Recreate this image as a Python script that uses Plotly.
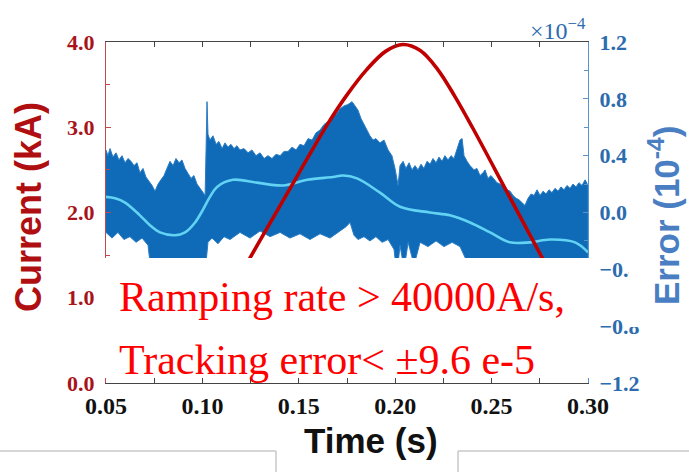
import plotly.graph_objects as go

# ---- current ramp (kA) ----
cur_t = [0.100, 0.125, 0.150, 0.165, 0.175, 0.185, 0.195, 0.204, 0.213,
         0.222, 0.231, 0.240, 0.258, 0.2762, 0.300]
cur_ka = [0.50, 1.48, 2.46, 3.04, 3.38, 3.67, 3.89, 3.97, 3.90,
          3.68, 3.36, 3.00, 2.24, 1.47, 0.45]

# ---- tracking error (x1e-4): upper envelope of the raw signal ----
err_up_t = [0.0500, 0.0510, 0.0521, 0.0536, 0.0552, 0.0567, 0.0583, 0.0599, 0.0614, 0.0630,
            0.0645, 0.0661, 0.0676, 0.0692, 0.0707, 0.0723, 0.0739, 0.0754, 0.0770, 0.0785,
            0.0801, 0.0816, 0.0832, 0.0848, 0.0863, 0.0879, 0.0894, 0.0910, 0.0925, 0.0941,
            0.0956, 0.0972, 0.0988, 0.1003, 0.1014, 0.1019, 0.1024, 0.1029, 0.1039, 0.1055,
            0.1071, 0.1086, 0.1102, 0.1117, 0.1133, 0.1148, 0.1164, 0.1179, 0.1195, 0.1216,
            0.1237, 0.1257, 0.1278, 0.1299, 0.1320, 0.1340, 0.1361, 0.1382, 0.1403, 0.1423,
            0.1444, 0.1465, 0.1486, 0.1506, 0.1527, 0.1548, 0.1569, 0.1589, 0.1610, 0.1631,
            0.1652, 0.1672, 0.1693, 0.1714, 0.1734, 0.1755, 0.1776, 0.1792, 0.1807, 0.1823,
            0.1838, 0.1854, 0.1869, 0.1885, 0.1900, 0.1921, 0.1942, 0.1963, 0.1983, 0.1999,
            0.2015, 0.2025, 0.2041, 0.2056, 0.2072, 0.2087, 0.2103, 0.2118, 0.2134, 0.2149,
            0.2165, 0.2181, 0.2196, 0.2212, 0.2227, 0.2243, 0.2258, 0.2274, 0.2290, 0.2305,
            0.2321, 0.2336, 0.2347, 0.2357, 0.2373, 0.2388, 0.2409, 0.2424, 0.2440, 0.2456,
            0.2466, 0.2481, 0.2497, 0.2513, 0.2528, 0.2544, 0.2564, 0.2580, 0.2596, 0.2611,
            0.2627, 0.2642, 0.2658, 0.2673, 0.2689, 0.2705, 0.2720, 0.2736, 0.2751, 0.2767,
            0.2782, 0.2798, 0.2813, 0.2829, 0.2845, 0.2860, 0.2876, 0.2891, 0.2907, 0.2922,
            0.2938, 0.2953, 0.2969, 0.2985, 0.3000]
err_up = [0.44, 0.40, 0.45, 0.39, 0.42, 0.37, 0.40, 0.35, 0.38, 0.36,
          0.33, 0.35, 0.28, 0.31, 0.25, 0.22, 0.19, 0.15, 0.20, 0.23,
          0.26, 0.31, 0.36, 0.33, 0.38, 0.35, 0.37, 0.31, 0.28, 0.24,
          0.26, 0.20, 0.17, 0.14, 0.12, 0.44, 0.78, 0.55, 0.51, 0.54,
          0.48, 0.50, 0.45, 0.49, 0.46, 0.48, 0.45, 0.47, 0.44, 0.45,
          0.42, 0.44, 0.40, 0.42, 0.38, 0.40, 0.38, 0.41, 0.40, 0.43,
          0.43, 0.46, 0.44, 0.48, 0.47, 0.52, 0.51, 0.56, 0.58, 0.62,
          0.64, 0.68, 0.69, 0.73, 0.75, 0.76, 0.78, 0.75, 0.72, 0.66,
          0.62, 0.57, 0.54, 0.51, 0.52, 0.49, 0.51, 0.44, 0.40, 0.31,
          0.19, 0.33, 0.36, 0.31, 0.35, 0.30, 0.33, 0.30, 0.34, 0.31,
          0.36, 0.34, 0.38, 0.35, 0.39, 0.36, 0.40, 0.37, 0.40, 0.38,
          0.44, 0.51, 0.52, 0.40, 0.36, 0.33, 0.30, 0.31, 0.26, 0.28,
          0.30, 0.24, 0.26, 0.23, 0.21, 0.20, 0.19, 0.16, 0.15, 0.12,
          0.10, 0.09, 0.07, 0.05, 0.10, 0.13, 0.12, 0.16, 0.12, 0.15,
          0.13, 0.16, 0.14, 0.17, 0.15, 0.18, 0.16, 0.19, 0.17, 0.20,
          0.18, 0.21, 0.19, 0.23, 0.19]

# ---- tracking error (x1e-4): lower envelope of the raw signal ----
err_lo_t = [0.0500, 0.0531, 0.0562, 0.0593, 0.0624, 0.0656, 0.0687, 0.0718, 0.0728, 0.0754,
            0.0806, 0.0858, 0.0910, 0.0962, 0.1003, 0.1019, 0.1029, 0.1050, 0.1081, 0.1112,
            0.1143, 0.1195, 0.1247, 0.1299, 0.1351, 0.1403, 0.1454, 0.1506, 0.1558, 0.1610,
            0.1662, 0.1714, 0.1745, 0.1766, 0.1786, 0.1807, 0.1838, 0.1869, 0.1900, 0.1932,
            0.1963, 0.1994, 0.2009, 0.2025, 0.2046, 0.2067, 0.2098, 0.2129, 0.2170, 0.2212,
            0.2253, 0.2295, 0.2336, 0.2367, 0.2414, 0.2492, 0.2596, 0.2699, 0.2803, 0.2907,
            0.3000]
err_lo = [-0.14, -0.18, -0.14, -0.19, -0.17, -0.21, -0.18, -0.23, -0.35, -0.44,
          -0.47, -0.51, -0.47, -0.44, -0.40, -0.35, -0.21, -0.18, -0.22, -0.17,
          -0.19, -0.14, -0.18, -0.13, -0.17, -0.14, -0.18, -0.15, -0.19, -0.15,
          -0.18, -0.13, -0.10, -0.07, -0.16, -0.19, -0.17, -0.20, -0.17, -0.21,
          -0.19, -0.26, -0.44, -0.23, -0.40, -0.21, -0.37, -0.21, -0.24, -0.20,
          -0.24, -0.21, -0.24, -0.33, -0.40, -0.44, -0.51, -0.55, -0.51, -0.51,
          -0.55]

# ---- smoothed (mean) tracking error ----
err_mean_t = [0.0500, 0.0547, 0.0599, 0.0676, 0.0728, 0.0780, 0.0858, 0.0910, 0.0962, 0.1003,
              0.1039, 0.1076, 0.1159, 0.1283, 0.1418, 0.1543, 0.1677, 0.1729, 0.1802, 0.1921,
              0.2025, 0.2180, 0.2284, 0.2388, 0.2492, 0.2595, 0.2699, 0.2803, 0.2933, 0.3000]
err_mean = [0.11, 0.10, 0.07, -0.02, -0.09, -0.14, -0.16, -0.14, -0.07, 0.02,
            0.11, 0.18, 0.23, 0.21, 0.19, 0.23, 0.25, 0.26, 0.24, 0.14,
            0.04, 0.00, -0.02, -0.07, -0.14, -0.21, -0.21, -0.19, -0.21, -0.28]

# ---- axis ticks ----
x_ticks = [0.05, 0.10, 0.15, 0.20, 0.25, 0.30]
x_labels = ["0.05", "0.10", "0.15", "0.20", "0.25", "0.30"]
cur_ticks = [0, 1, 2, 3, 4]
cur_labels = ["0.0", "1.0", "2.0", "3.0", "4.0"]
err_ticks = [-1.2, -0.8, -0.4, 0.0, 0.4, 0.8, 1.2]
err_labels = ["\u22121.2", "\u22120.8", "\u22120.4", "0.0", "0.4", "0.8", "1.2"]


def bold(labels):
    return ["<b>%s</b>" % s for s in labels]


RED_LINE = "#c00000"
RED_TXT = "#a8141a"
BLUE_BAND = "#0f6bb8"
BLUE_TXT = "#2c6cae"
CYAN = "#62d3f2"
SERIF = "Liberation Serif"
SANS = "Liberation Sans"

fig = go.Figure()

# raw error drawn as a filled band between its envelopes
band_x = err_up_t + err_lo_t[::-1]
band_y = err_up + err_lo[::-1]
fig.add_trace(go.Scatter(
    x=band_x, y=band_y, mode="lines", fill="toself",
    fillcolor=BLUE_BAND, line=dict(color="#2a7cc4", width=1),
    yaxis="y", hoverinfo="skip"))

fig.add_trace(go.Scatter(
    x=err_mean_t, y=err_mean, mode="lines", line=dict(color=CYAN, width=2.6, shape="spline"),
    yaxis="y"))

fig.add_trace(go.Scatter(
    x=cur_t, y=cur_ka, mode="lines", line=dict(color=RED_LINE, width=3.6, shape="spline"),
    yaxis="y2"))

fig.update_layout(
    width=689, height=472,
    margin=dict(l=106, r=101, t=42, b=89),
    paper_bgcolor="white", plot_bgcolor="white",
    showlegend=False,
    xaxis=dict(
        range=[0.05, 0.30], tickvals=x_ticks, ticktext=bold(x_labels),
        ticks="inside", ticklen=5, tickwidth=1.2, tickcolor="#444",
        showline=True, linecolor="#444", linewidth=1.3, mirror="allticks",
        showgrid=False, zeroline=False,
        minor=dict(ticks="inside", ticklen=4, tick0=0.05, dtick=0.025,
                   tickcolor="#444", showgrid=False),
        tickfont=dict(family=SERIF, size=24, color="#111111"),
        ticklabelstandoff=1,
    ),
    yaxis=dict(
        side="right", range=[-1.2, 1.2], tickvals=err_ticks, ticktext=bold(err_labels),
        ticks="inside", ticklen=5, tickwidth=1.2, tickcolor="#5b93cc",
        showline=True, linecolor="#5b93cc", linewidth=1.3,
        showgrid=False, zeroline=False,
        minor=dict(ticks="inside", ticklen=4, tick0=-1.2, dtick=0.2,
                   tickcolor="#5b93cc", showgrid=False),
        tickfont=dict(family=SERIF, size=22, color=BLUE_TXT),
        ticklabelstandoff=6,
    ),
    yaxis2=dict(
        overlaying="y", side="left", range=[0, 4], tickvals=cur_ticks, ticktext=bold(cur_labels),
        ticks="inside", ticklen=5, tickwidth=1.2, tickcolor="#c4484a",
        showline=True, linecolor="#c4484a", linewidth=1.3,
        showgrid=False, zeroline=False,
        minor=dict(ticks="inside", ticklen=4, tick0=0, dtick=0.5,
                   tickcolor="#c4484a", showgrid=False),
        tickfont=dict(family=SERIF, size=22, color=RED_TXT),
        ticklabelstandoff=6,
    ),
)

shapes = [
    # white caption panel over the lower part of the plot
    dict(type="rect", xref="paper", yref="paper", x0=-0.0187, x1=1.0207, y0=0.0147, y1=0.3666,
         fillcolor="white", line=dict(width=0), layer="above"),
    dict(type="rect", xref="paper", yref="paper", x0=1.085, x1=1.118, y0=0.164, y1=0.3666,
         fillcolor="white", line=dict(width=0), layer="above"),
    # page frame lines below the figure
    dict(type="line", xref="paper", yref="paper", x0=-0.23, x1=0.3527, y0=-0.1994, y1=-0.1994,
         line=dict(color="#c8c8c8", width=1.5), layer="above"),
    dict(type="line", xref="paper", yref="paper", x0=0.7303, x1=1.23, y0=-0.1994, y1=-0.1994,
         line=dict(color="#c8c8c8", width=1.5), layer="above"),
    dict(type="line", xref="paper", yref="paper", x0=0.3527, x1=0.3527, y0=-0.1994, y1=-0.27,
         line=dict(color="#c8c8c8", width=1.5), layer="above"),
    dict(type="line", xref="paper", yref="paper", x0=0.7303, x1=0.7303, y0=-0.1994, y1=-0.27,
         line=dict(color="#c8c8c8", width=1.5), layer="above"),
]
fig.update_layout(shapes=shapes)

annotations = [
    dict(text="Ramping rate > 40000A/s,", x=0.0228, y=0.252, xref="paper", yref="paper",
         xanchor="left", yanchor="middle", showarrow=False,
         font=dict(family=SERIF, size=42, color="#ff0000")),
    dict(text="Tracking error< \u00b19.6 e-5", x=0.0228, y=0.067, xref="paper", yref="paper",
         xanchor="left", yanchor="middle", showarrow=False,
         font=dict(family=SERIF, size=42, color="#ff0000")),
    dict(text="<b>Current (kA)</b>", x=-0.162, y=0.516, xref="paper", yref="paper",
         textangle=-90, showarrow=False, xanchor="center", yanchor="middle",
         font=dict(family=SANS, size=36, color="#b00f12")),
    dict(text="<b>Error (10<sup>-4</sup>)</b>", x=1.158, y=0.49, xref="paper", yref="paper",
         textangle=-90, showarrow=False, xanchor="center", yanchor="middle",
         font=dict(family=SANS, size=35, color="#4a7ec2")),
    dict(text="<b>Time (s)</b>", x=0.55, y=-0.17, xref="paper", yref="paper",
         showarrow=False, xanchor="center", yanchor="middle",
         font=dict(family=SANS, size=35, color="#111111")),
    dict(text="\u00d710<sup>\u22124</sup>", x=0.938, y=1.038, xref="paper", yref="paper",
         showarrow=False, xanchor="center", yanchor="middle",
         font=dict(family=SERIF, size=24, color=BLUE_TXT)),
]
fig.update_layout(annotations=annotations)

fig.write_html("out.html")
